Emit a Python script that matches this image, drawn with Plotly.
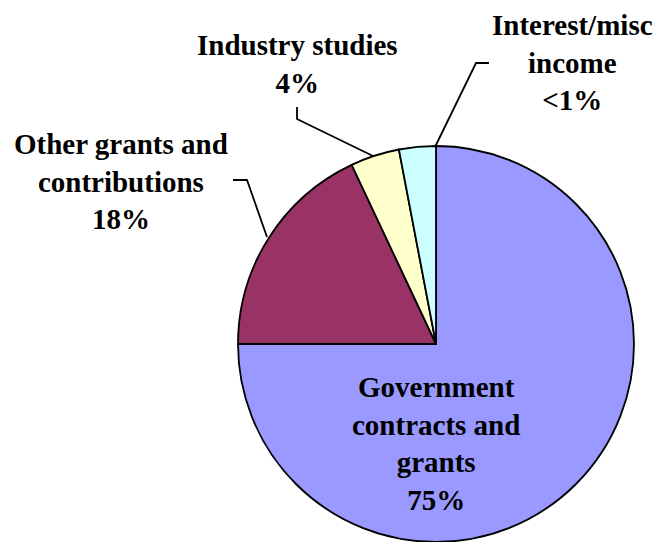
import plotly.graph_objects as go

W, H = 657, 542

labels = ["Government contracts and grants", "Other grants and contributions",
          "Industry studies", "Interest/misc income"]
values = [75, 18, 4, 3]
colors = ["#9999FF", "#993366", "#FFFFCC", "#CCFFFF"]
label_texts = ["Government<br>contracts and<br>grants<br>75%",
               "Other grants and<br>contributions<br>18%",
               "Industry studies<br>4%",
               "Interest/misc<br>income<br>&lt;1%"]

# layout (pixels)
cx, cy, R = 436, 344, 198
label_pos = [(436, 443), (121, 181), (297, 64), (572, 63)]
leaders = [None,
           [(233, 180), (247, 180), (267, 237)],
           [(297, 107), (297, 119), (373, 156)],
           [(489, 63), (476, 63), (435, 147)]]

FONT = "Liberation Serif"

def px(x):
    return x / W

def py(y):
    return 1 - y / H

fig = go.Figure(go.Pie(
    labels=labels, values=values, sort=False, direction="clockwise", rotation=0,
    marker=dict(colors=colors, line=dict(color="black", width=1.8)),
    textinfo="none", hoverinfo="label+percent", showlegend=False,
    domain=dict(x=[px(cx - R), px(cx + R)], y=[0, (2 * R) / H]),
))

for txt, (x, y) in zip(label_texts, label_pos):
    lines = txt.split("<br>")
    fig.add_annotation(x=px(x), y=py(y), xref="paper", yref="paper",
                       text="<br>".join("<b>" + s + "</b>" for s in lines),
                       showarrow=False, xanchor="center", yanchor="middle", align="center",
                       font=dict(family=FONT, size=29, color="black"))

for pts in leaders:
    if not pts:
        continue
    path = "M " + " L ".join(f"{px(x)},{py(y)}" for x, y in pts)
    fig.add_shape(type="path", path=path, xref="paper", yref="paper",
                  line=dict(color="black", width=1.8))

fig.update_layout(width=W, height=H, margin=dict(l=0, r=0, t=0, b=0),
                  paper_bgcolor="white", plot_bgcolor="white")

fig.write_html("out.html")
